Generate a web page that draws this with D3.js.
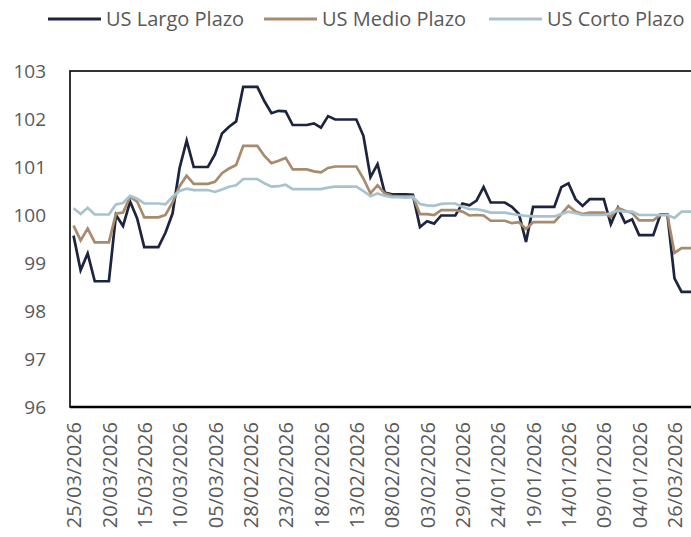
<!DOCTYPE html>
<html>
<head>
<meta charset="utf-8">
<script src="https://cdn.jsdelivr.net/npm/d3@7"></script>
<style>
  html, body { margin: 0; padding: 0; background: #ffffff; }
  svg { display: block; }
  text { font-family: "Open Sans", "Noto Sans", sans-serif; fill: #595959; }
</style>
</head>
<body>
<svg id="chart" width="691" height="537"></svg>
<script>
// ---- data ----
const seriesNames = ["US Largo Plazo", "US Medio Plazo", "US Corto Plazo"];

const largo = [99.57, 98.85, 99.20, 98.62, 98.62, 98.62, 100.00, 99.77, 100.28, 99.93,
  99.33, 99.33, 99.33, 99.63, 100.03, 100.98, 101.55, 101.00, 101.00, 101.00,
  101.26, 101.70, 101.84, 101.95, 102.67, 102.67, 102.67, 102.37, 102.12, 102.17,
  102.16, 101.875, 101.875, 101.875, 101.91, 101.82, 102.06, 101.99, 101.99, 101.99,
  101.99, 101.65, 100.79, 101.06, 100.47, 100.43, 100.43, 100.43, 100.42, 99.75,
  99.87, 99.82, 99.99, 99.99, 99.99, 100.24, 100.20, 100.30, 100.58, 100.26,
  100.26, 100.26, 100.17, 100.02, 99.44, 100.17, 100.17, 100.17, 100.17, 100.58,
  100.66, 100.33, 100.19, 100.33, 100.33, 100.33, 99.81, 100.15, 99.84, 99.91,
  99.58, 99.58, 99.58, 100.01, 100.01, 98.68, 98.40, 98.40, 98.40];

const medio = [99.78, 99.47, 99.72, 99.43, 99.43, 99.43, 100.03, 100.05, 100.38, 100.28,
  99.95, 99.95, 99.95, 100.00, 100.26, 100.60, 100.82, 100.65, 100.65, 100.65,
  100.69, 100.87, 100.97, 101.04, 101.44, 101.44, 101.44, 101.23, 101.08, 101.13,
  101.19, 100.95, 100.95, 100.95, 100.91, 100.89, 100.98, 101.01, 101.01, 101.01,
  101.01, 100.76, 100.45, 100.62, 100.45, 100.40, 100.39, 100.39, 100.39, 100.02,
  100.02, 100.00, 100.10, 100.10, 100.10, 100.07, 99.99, 100.00, 99.99, 99.88,
  99.88, 99.88, 99.83, 99.85, 99.71, 99.85, 99.85, 99.85, 99.85, 100.02,
  100.19, 100.07, 100.02, 100.05, 100.05, 100.05, 99.96, 100.15, 100.09, 100.04,
  99.89, 99.89, 99.89, 100.00, 100.00, 99.21, 99.31, 99.31, 99.31];

const corto = [100.14, 100.02, 100.15, 100.01, 100.01, 100.01, 100.22, 100.25, 100.40, 100.34,
  100.24, 100.24, 100.24, 100.22, 100.38, 100.50, 100.55, 100.52, 100.52, 100.52,
  100.48, 100.53, 100.59, 100.62, 100.75, 100.75, 100.75, 100.66, 100.59, 100.60,
  100.63, 100.54, 100.54, 100.54, 100.54, 100.54, 100.57, 100.59, 100.59, 100.59,
  100.59, 100.50, 100.39, 100.45, 100.40, 100.37, 100.37, 100.36, 100.37, 100.23,
  100.20, 100.19, 100.23, 100.24, 100.24, 100.17, 100.12, 100.12, 100.09, 100.05,
  100.05, 100.05, 100.02, 100.00, 99.98, 99.97, 99.97, 99.97, 99.97, 100.02,
  100.07, 100.04, 100.00, 100.00, 100.00, 100.00, 100.04, 100.09, 100.07, 100.07,
  100.00, 100.00, 100.00, 100.00, 100.00, 99.94, 100.07, 100.07, 100.07];

// x-axis labels, one every 5 categories
const tickLabels = ["25/03/2026", "20/03/2026", "15/03/2026", "10/03/2026", "05/03/2026",
  "28/02/2026", "23/02/2026", "18/02/2026", "13/02/2026", "08/02/2026", "03/02/2026",
  "29/01/2026", "24/01/2026", "19/01/2026", "14/01/2026", "09/01/2026", "04/01/2026",
  "26/03/2026"];
const labelEvery = 5;

const yTicks = [96, 97, 98, 99, 100, 101, 102, 103];

// ---- layout ----
const colors = ["#1c2440", "#a88a6d", "#a9c3ce"];
const plotLeft = 70, plotTop = 71, plotBottom = 407;
const step = 7.07;
const n = largo.length;

const svg = d3.select("#chart");

const x = d3.scalePoint()
  .domain(d3.range(n))
  .range([plotLeft, plotLeft + n * step])
  .padding(0.5);

const y = d3.scaleLinear()
  .domain([96, 103])
  .range([plotBottom, plotTop]);

// y axis labels
const yAxis = d3.axisLeft(y).tickValues(yTicks).tickSize(0).tickPadding(0)
  .tickFormat(d3.format("d"));
const gy = svg.append("g").attr("transform", `translate(${plotLeft - 24},0)`).call(yAxis);
gy.select(".domain").remove();
gy.selectAll("text")
  .style("font-family", '"Open Sans", sans-serif')
  .style("font-size", "19px")
  .attr("fill", "#595959");

// x axis labels
const tickIdx = tickLabels.map((_, i) => i * labelEvery);
const xAxis = d3.axisBottom(x).tickValues(tickIdx).tickSize(0)
  .tickFormat(d => tickLabels[d / labelEvery]);
const gx = svg.append("g").attr("transform", `translate(0,${plotBottom})`).call(xAxis);
gx.select(".domain").remove();
gx.selectAll("text")
  .style("font-family", '"Open Sans", sans-serif')
  .style("font-size", "20px")
  .attr("fill", "#595959")
  .attr("text-anchor", "end")
  .attr("transform", "rotate(-90)")
  .attr("x", -15)
  .attr("y", 0)
  .attr("dy", "0.36em");

// plot frame
svg.append("rect")
  .attr("x", plotLeft).attr("y", plotTop)
  .attr("width", n * step + 10).attr("height", plotBottom - plotTop)
  .attr("fill", "none").attr("stroke", "#000").attr("stroke-width", 1.6);
svg.append("line")
  .attr("x1", plotLeft).attr("x2", 691 + 10)
  .attr("y1", y(96)).attr("y2", y(96))
  .attr("stroke", "#000").attr("stroke-width", 2.4);

// lines
const line = d3.line().x((d, i) => x(i)).y(d => y(d));
[largo, medio, corto].forEach((s, k) => {
  svg.append("path")
    .datum(s)
    .attr("fill", "none")
    .attr("stroke", colors[k])
    .attr("stroke-width", 2.7)
    .attr("stroke-linejoin", "miter")
    .attr("d", line);
});

// legend
const legendY = 19;
const legendStarts = [48, 264, 489];
seriesNames.forEach((name, k) => {
  const g = svg.append("g").attr("transform", `translate(${legendStarts[k]},${legendY})`);
  g.append("line").attr("x1", 0).attr("x2", 53).attr("y1", 0).attr("y2", 0)
    .attr("stroke", colors[k]).attr("stroke-width", 3);
  g.append("text").attr("x", 58).attr("y", 0).attr("dy", "0.35em")
    .style("font-size", "20px")
    .text(name);
});
</script>
</body>
</html>
